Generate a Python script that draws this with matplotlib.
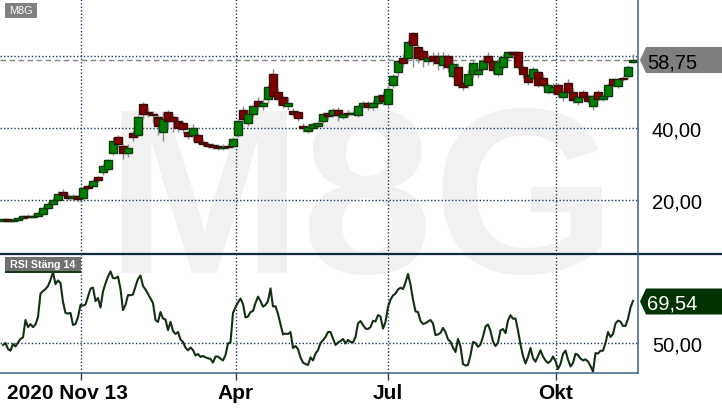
import matplotlib
matplotlib.use('Agg')
import matplotlib.pyplot as plt
from matplotlib.patches import Rectangle, Polygon
from matplotlib.lines import Line2D
from matplotlib.ticker import FuncFormatter, FixedLocator
import matplotlib.transforms as mtransforms

plt.rcParams['font.family'] = ['Liberation Sans', 'DejaVu Sans']

# ---------------- data ----------------
opens = [14.3, 14.6, 14.3, 14.5, 14.9, 15.6, 15.3, 15.6, 16.0, 17.8,
         18.8, 20.0, 22.2, 21.2, 20.5, 21.0, 20.5, 23.8, 23.8, 26.3,
         27.8, 28.5, 33.0, 37.5, 35.0, 33.0, 38.5, 38.0, 46.8, 44.5,
         44.0, 43.0, 39.0, 44.5, 43.0, 42.0, 41.5, 38.8, 38.0, 38.0,
         36.0, 35.5, 35.2, 35.0, 34.5, 35.0, 35.0, 38.0, 45.0, 41.5,
         44.0, 47.5, 46.0, 48.0, 55.0, 50.0, 48.5, 46.0, 44.8, 44.5,
         40.6, 39.2, 40.0, 40.5, 42.0, 44.2, 43.5, 45.0, 43.0, 44.3,
         43.8, 43.5, 46.0, 47.0, 45.8, 47.0, 49.3, 46.8, 52.0, 55.5,
         59.5, 59.4, 66.5, 62.5, 61.4, 58.5, 60.0, 60.0, 57.5, 60.0,
         54.5, 57.0, 52.5, 52.0, 55.0, 55.0, 56.5, 60.0, 58.5, 55.0,
         57.0, 59.7, 61.0, 61.0, 57.0, 54.7, 54.0, 55.5, 54.0, 50.0,
         50.0, 52.0, 48.6, 52.5, 50.0, 47.2, 50.0, 48.8, 46.0, 50.0,
         48.0, 49.0, 53.5, 51.7, 53.9, 54.4, 58.4]
closes = [14.6, 14.3, 14.5, 14.9, 15.6, 15.3, 15.6, 16.3, 17.8, 18.8,
          20.0, 21.8, 21.5, 20.5, 21.0, 20.2, 23.3, 23.4, 25.2, 25.5,
          29.5, 31.0, 36.5, 35.5, 33.0, 34.5, 37.5, 43.0, 43.8, 44.0,
          43.5, 40.5, 42.5, 42.0, 42.0, 40.0, 39.8, 37.8, 40.0, 36.2,
          35.5, 35.0, 34.8, 34.5, 34.8, 34.6, 37.0, 42.0, 42.5, 44.0,
          46.0, 46.0, 47.0, 51.5, 49.0, 48.0, 46.5, 47.0, 44.0, 42.8,
          40.0, 40.3, 41.0, 41.5, 44.0, 43.2, 45.0, 43.5, 44.0, 43.8,
          44.2, 46.0, 47.0, 45.8, 47.0, 48.8, 47.5, 50.8, 54.5, 58.6,
          58.0, 63.9, 63.0, 59.5, 59.2, 59.5, 59.0, 58.0, 60.0, 57.0,
          57.8, 52.0, 51.5, 55.0, 58.0, 56.0, 58.6, 58.3, 56.0, 58.3,
          59.7, 61.0, 60.5, 57.0, 55.0, 52.8, 56.4, 52.0, 52.0, 52.0,
          51.5, 49.4, 50.0, 50.0, 47.8, 48.6, 48.5, 47.5, 48.9, 48.0,
          49.0, 52.0, 52.0, 53.6, 53.6, 57.0, 58.75]
highs = [14.9, 15.0, 14.9, 15.3, 15.9, 16.0, 16.2, 17.0, 18.3, 19.5,
         20.8, 22.5, 23.0, 22.0, 21.8, 21.5, 23.8, 24.5, 25.8, 26.8,
         30.0, 31.5, 37.5, 38.0, 35.5, 35.5, 39.5, 43.5, 47.3, 45.5,
         44.8, 43.5, 44.5, 45.0, 44.0, 43.0, 42.0, 39.5, 41.0, 38.5,
         37.0, 36.0, 35.8, 35.5, 35.5, 35.8, 37.5, 42.5, 46.0, 45.0,
         46.5, 48.5, 48.0, 52.0, 56.4, 51.0, 49.0, 48.5, 45.5, 45.0,
         41.5, 41.0, 41.8, 42.0, 44.5, 45.0, 45.5, 45.8, 44.5, 45.0,
         44.8, 46.5, 47.5, 47.5, 47.8, 49.5, 50.0, 52.0, 55.0, 59.0,
         60.5, 64.5, 66.7, 63.0, 62.0, 60.5, 61.0, 61.0, 61.0, 60.5,
         58.5, 58.0, 53.0, 56.0, 59.0, 57.0, 59.5, 61.0, 59.0, 59.0,
         60.5, 61.5, 61.5, 61.5, 57.5, 55.0, 57.0, 56.0, 55.0, 52.5,
         52.5, 52.5, 51.0, 53.5, 51.0, 49.0, 50.5, 49.5, 49.5, 50.5,
         49.5, 52.5, 54.0, 54.0, 54.5, 57.5, 60.5]
lows = [14.1, 14.0, 14.0, 14.2, 14.6, 15.0, 15.0, 15.3, 15.8, 17.5,
        18.5, 19.8, 21.0, 20.0, 19.8, 19.5, 20.3, 22.8, 23.5, 25.0,
        27.0, 28.0, 32.5, 34.8, 31.5, 32.0, 36.5, 37.5, 42.5, 43.0,
        41.5, 38.0, 36.5, 40.0, 39.0, 39.0, 38.5, 37.0, 36.5, 35.5,
        35.0, 34.5, 34.2, 34.0, 34.0, 34.2, 34.5, 37.5, 41.5, 40.5,
        43.0, 45.0, 45.0, 47.0, 48.5, 46.5, 45.5, 45.0, 43.0, 42.0,
        39.0, 38.5, 39.5, 40.0, 41.5, 42.5, 43.0, 42.0, 42.5, 43.0,
        43.5, 43.0, 45.5, 45.0, 45.0, 46.5, 46.5, 46.0, 51.0, 54.5,
        57.0, 58.5, 57.0, 58.0, 57.0, 57.5, 57.5, 56.0, 56.5, 55.5,
        54.0, 51.0, 50.5, 51.0, 54.0, 54.0, 56.0, 57.5, 55.0, 54.5,
        56.5, 59.0, 59.5, 56.5, 54.0, 52.0, 53.5, 51.5, 51.5, 49.5,
        49.5, 48.5, 47.5, 49.5, 47.0, 46.5, 48.0, 47.0, 45.0, 47.5,
        47.5, 48.5, 51.5, 51.0, 53.0, 54.0, 58.0]

rsi = [49.1, 50.0, 47.2, 46.4, 49.5, 48.4, 50.2, 51.9, 52.6, 60.7,
       57.4, 58.8, 57.4, 58.6, 62.1, 73.0, 74.2, 75.1, 76.5, 79.3,
       83.0, 77.4, 79.1, 77.9, 69.1, 64.0, 63.7, 64.0, 58.4, 58.8,
       62.1, 67.7, 67.4, 67.9, 71.6, 75.3, 75.8, 69.5, 70.9, 66.5,
       74.0, 77.7, 80.9, 83.3, 80.2, 80.1, 80.9, 75.1, 65.3, 67.7,
       72.3, 72.2, 72.6, 76.3, 79.8, 81.4, 76.5, 74.9, 72.8, 70.7,
       68.6, 60.7, 59.8, 64.4, 61.4, 60.9, 56.0, 59.8, 55.6, 54.2,
       55.1, 51.6, 50.5, 47.8, 46.6, 47.9, 46.7, 44.2, 44.9, 43.5,
       44.0, 43.3, 42.9, 42.6, 40.9, 43.7, 43.7, 42.7, 41.9, 44.4,
       49.8, 50.3, 64.0, 66.7, 68.8, 70.7, 68.1, 61.9, 62.3, 64.4,
       64.9, 68.6, 71.6, 69.5, 66.9, 67.7, 69.5, 75.4, 67.0, 67.1,
       63.5, 58.8, 54.0, 54.4, 54.2, 55.1, 47.7, 48.6, 47.2, 43.3,
       40.9, 40.2, 39.8, 43.3, 41.9, 45.1, 46.7, 50.0, 51.3, 52.8,
       55.1, 55.1, 52.1, 49.1, 50.2, 50.9, 51.9, 49.8, 51.4, 50.5,
       50.3, 52.8, 59.1, 60.2, 58.4, 56.7, 56.5, 57.4, 60.3, 60.0,
       63.0, 62.3, 56.7, 59.8, 66.7, 70.2, 72.1, 73.0, 74.9, 75.7,
       75.1, 78.2, 82.1, 77.2, 70.2, 64.7, 64.4, 60.2, 58.9, 59.2,
       60.0, 60.7, 59.1, 53.7, 54.0, 54.7, 57.0, 55.1, 51.7, 50.6,
       47.9, 45.8, 51.9, 48.4, 40.2, 39.5, 39.8, 44.4, 50.5, 50.0,
       48.2, 49.3, 53.0, 57.7, 58.6, 55.6, 50.7, 48.6, 50.2, 55.9,
       56.5, 54.6, 60.5, 62.9, 61.3, 61.4, 55.8, 49.3, 44.0, 40.5,
       43.5, 47.7, 43.0, 41.3, 44.0, 46.6, 43.7, 41.9, 40.7, 41.6,
       43.7, 41.6, 37.9, 40.2, 44.9, 46.5, 42.3, 39.1, 40.7, 45.0,
       44.4, 42.8, 41.9, 42.4, 41.4, 39.3, 36.7, 45.3, 45.1, 46.4,
       46.4, 50.0, 55.1, 52.8, 54.2, 59.1, 60.4, 60.0, 57.9, 58.0,
       61.2, 66.5, 69.54]

tick_days = [31, 93, 154, 221]
tick_labels = ['2020 Nov 13', 'Apr', 'Jul', 'Okt']
price_grid = [20, 40, 60]
price_ticks = [20, 40]
rsi_ticks = [50]
last_price = 58.75
last_rsi = 69.54
ticker = 'M8G'
rsi_title = 'RSI Stäng 14'

# ---------------- layout ----------------
W, H = 722, 410
fig = plt.figure(figsize=(W / 100, H / 100), dpi=100)
fig.patch.set_facecolor('white')


def fx(px):
    return px / W


def fy(py):
    return 1 - py / H


GRID = '#1c3a57'
BORDER = '#3a6288'

# watermark
fig.text(fx(361), fy(273), ticker, fontsize=170, fontweight='bold',
         color='#f1f1f1', ha='center', va='baseline', zorder=-5)

ax1 = fig.add_axes([0, fy(255), fx(638), fy(0) - fy(255)])
ax2 = fig.add_axes([0, fy(374), fx(638), fy(255) - fy(374)], sharex=ax1)
for ax in (ax1, ax2):
    ax.set_facecolor('none')
    for s in ax.spines.values():
        s.set_visible(False)

# candles: every other trading day
cx = [2 * i for i in range(len(closes))]
z = 3.0
for x, o, c, h, l in zip(cx, opens, closes, highs, lows):
    up = c >= o
    ax1.vlines(x, l, h, color='#8c8c8c', lw=1.0, zorder=z)
    body = c - o if abs(c - o) > 0.25 else (0.25 if up else -0.25)
    ax1.bar(x, body, bottom=o, width=2.9,
            color='#008000' if up else '#800000',
            edgecolor='#0b3b0b' if up else '#3b0b0b',
            linewidth=1.0, zorder=z + 0.5)
    z += 1

ax1.set_xlim(-1.2, 254)
ax1.set_ylim(5, 75.83)

for v in price_grid:
    ax1.axhline(v, color=GRID, ls=(0, (1, 1.5)), lw=1.0, zorder=1)
ax1.axhline(last_price, color='#808080', ls=(0, (4, 2.5)), lw=1.0, zorder=2)

ax1.yaxis.tick_right()
ax1.yaxis.set_major_locator(FixedLocator(price_ticks))
fmt = FuncFormatter(lambda v, p: f'{v:.2f}'.replace('.', ','))
ax1.yaxis.set_major_formatter(fmt)
ax1.tick_params(axis='y', length=0, pad=10, labelsize=14.5, labelcolor='black')
ax1.tick_params(axis='x', bottom=False, labelbottom=False)

# RSI
ax2.plot(range(len(rsi)), rsi, color='#123012', lw=1.5, zorder=5)
ax2.set_ylim(36.05, 91.4)
for v in rsi_ticks:
    ax2.axhline(v, color=GRID, ls=(0, (1, 1.5)), lw=1.0, zorder=1)
ax2.yaxis.tick_right()
ax2.yaxis.set_major_locator(FixedLocator(rsi_ticks))
ax2.yaxis.set_major_formatter(fmt)
ax2.tick_params(axis='y', length=0, pad=10, labelsize=14.5, labelcolor='black')

ax2.set_xticks(tick_days)
ax2.set_xticklabels(tick_labels, fontweight='bold')
ax2.tick_params(axis='x', direction='out', length=5, width=1, color=GRID,
                pad=2, labelsize=15)
offset = mtransforms.ScaledTranslation(-13.5 / 100, 0, fig.dpi_scale_trans)
first = ax2.get_xticklabels()[0]
first.set_transform(first.get_transform() + offset)

for d in tick_days:
    ax1.axvline(d, color=GRID, ls=(0, (1, 1.5)), lw=1.0, zorder=1)
    ax2.axvline(d, color=GRID, ls=(0, (1, 1.5)), lw=1.0, zorder=1)

# frame lines
fig.add_artist(Line2D([0, 1], [fy(255), fy(255)], transform=fig.transFigure,
                      color='#0f2c3d', lw=1.6, zorder=10))
fig.add_artist(Line2D([fx(638), fx(638)], [fy(0), fy(374)], transform=fig.transFigure,
                      color=BORDER, lw=1.1, zorder=10))
fig.add_artist(Line2D([0, fx(638)], [fy(374), fy(374)], transform=fig.transFigure,
                      color=BORDER, lw=1.1, zorder=10))

# labels top-left
fig.add_artist(Rectangle((fx(5), fy(19)), fx(32), fy(4) - fy(19), transform=fig.transFigure,
                         facecolor='#808080', edgecolor='none', zorder=11))
fig.text(fx(21), fy(11.5), ticker, color='white', fontsize=7.8, ha='center', va='center', zorder=12)

fig.add_artist(Rectangle((fx(5), fy(272)), fx(76), fy(258) - fy(272), transform=fig.transFigure,
                         facecolor='#707070', edgecolor='none', zorder=11))
fig.add_artist(Rectangle((fx(5), fy(274)), fx(76), fy(272) - fy(274), transform=fig.transFigure,
                         facecolor='#1a3a1a', edgecolor='none', zorder=11))
fig.text(fx(43), fy(265), rsi_title, color='white', fontsize=7.7, fontweight='bold',
         ha='center', va='center', zorder=12)


# value boxes on the right
def value_box(yc, face, txt, tcolor):
    pts = [(640, yc), (646, yc - 13), (722, yc - 13), (722, yc + 13), (646, yc + 13)]
    fig.add_artist(Polygon([(fx(a), fy(b)) for a, b in pts], closed=True,
                           transform=fig.transFigure, facecolor=face,
                           edgecolor='none', zorder=11))
    fig.text(fx(647), fy(yc), txt, color=tcolor, fontsize=14.5, ha='left',
             va='center_baseline', zorder=12)


value_box(61, '#7f7f7f', f'{last_price:.2f}'.replace('.', ','), 'black')
value_box(302.5, '#003300', f'{last_rsi:.2f}'.replace('.', ','), 'white')

fig.savefig('out.png', dpi=100)
